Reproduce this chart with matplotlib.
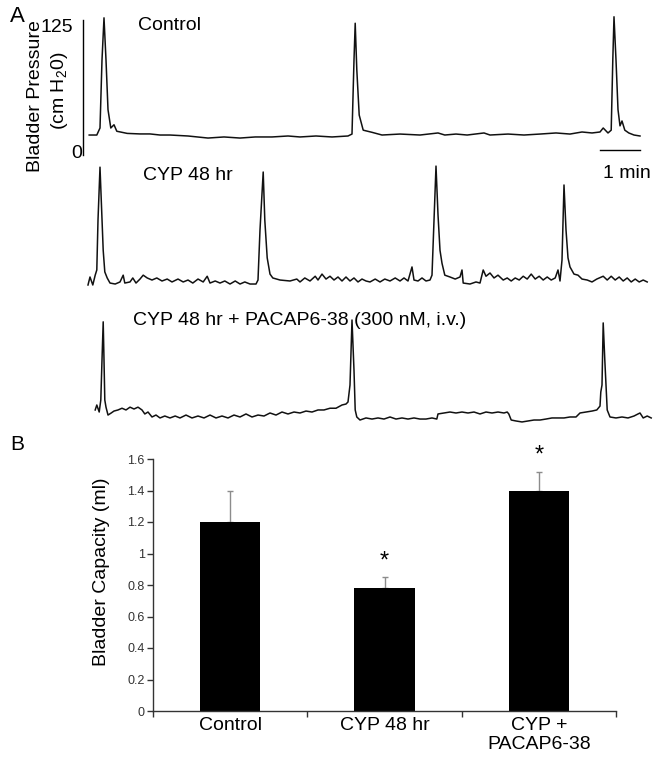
import matplotlib
matplotlib.use("Agg")
import matplotlib.pyplot as plt
from matplotlib.ticker import FixedLocator, FuncFormatter

plt.rcParams['font.family'] = ['Liberation Sans', 'DejaVu Sans']
plt.rcParams['mathtext.default'] = 'regular'

# ---------------- Panel A: cystometrogram traces (time in min, pressure in cm H2O)
control_t = [0.03, 0.22, 0.30, 0.35, 0.40, 0.45, 0.50, 0.57, 0.65, 0.72, 0.98, 1.3, 1.55, 1.8,
             2.05, 2.5, 3.0, 3.4, 3.8, 4.18, 4.6, 5.0, 5.3, 5.7, 6.1, 6.5, 6.6, 6.65, 6.68,
             6.72, 6.78, 6.88, 7.1, 7.35, 7.8, 8.3, 8.75, 8.92, 9.2, 9.48, 9.9, 10.05, 10.5,
             10.9, 11.3, 11.7, 12.05, 12.35, 12.6, 12.8, 12.88, 13.0, 13.08, 13.12, 13.15,
             13.2, 13.25, 13.3, 13.35, 13.42, 13.52, 13.65, 13.8]
control_p = [18.5, 18.5, 25, 88, 127, 88, 42, 25, 28, 22, 20, 19.5, 19.5, 18.5,
             18.5, 17.6, 15.7, 16.7, 15.7, 16.7, 16.7, 17.6, 16.7, 17.6, 16.7, 17.6, 19.4, 88, 122,
             79, 37, 23, 21, 18.5, 19.4, 18.5, 20.4, 18.5, 19.4, 18.5, 20.4, 18.5, 19.4,
             18.5, 19.4, 20.4, 19.4, 21.3, 20.4, 21.3, 25, 20.4, 23, 88, 128,
             88, 42, 27, 31.5, 23, 20.4, 18.5, 17.6]

cyp_t = [0.0, 0.05, 0.12, 0.18, 0.22, 0.25, 0.30, 0.35, 0.38, 0.42, 0.48, 0.55, 0.68, 0.8,
         0.88, 0.92, 1.05, 1.12, 1.2, 1.3, 1.38, 1.48, 1.6, 1.72, 1.85, 1.98, 2.1, 2.25,
         2.38, 2.5, 2.62, 2.75, 2.88, 2.98, 3.05, 3.18, 3.3, 3.42, 3.55, 3.68, 3.8, 3.92,
         4.05, 4.2, 4.25, 4.3, 4.38, 4.42, 4.48, 4.55, 4.62, 4.8, 5.05, 5.22, 5.3, 5.42,
         5.55, 5.68, 5.75, 5.85, 5.95, 6.05, 6.15, 6.25, 6.35, 6.45, 6.55, 6.65, 6.75, 6.85,
         6.95, 7.05, 7.18, 7.3, 7.42, 7.55, 7.68, 7.8, 7.9, 8.0, 8.1, 8.15, 8.25, 8.35,
         8.45, 8.55, 8.6, 8.65, 8.7, 8.75, 8.8, 8.85, 8.92, 9.05, 9.18, 9.3, 9.35, 9.38,
         9.55, 9.7, 9.8, 9.88, 9.95, 10.05, 10.15, 10.25, 10.38, 10.48, 10.58, 10.68, 10.78,
         10.88, 10.98, 11.08, 11.18, 11.28, 11.38, 11.48, 11.58, 11.68, 11.75, 11.8, 11.85,
         11.9, 11.95, 12.0, 12.05, 12.15, 12.25, 12.35, 12.48, 12.6, 12.72, 12.88, 12.98,
         13.08, 13.18, 13.28, 13.38, 13.48, 13.58, 13.68, 13.78, 13.88, 13.98]
cyp_p = [13.9, 21.3, 13.9, 23, 27.8, 74, 123, 74, 46, 26, 20.4, 15.7, 14.8, 16.7,
         23, 15.7, 16.7, 20.4, 15.7, 19.4, 23, 20.4, 18.5, 20.4, 17.6, 19.4, 16.7, 19.4,
         16.7, 18.5, 15.7, 19.4, 16.7, 22, 15.7, 17.6, 15.7, 17.6, 14.8, 17.6, 14.8, 16.7,
         14.8, 14.8, 18.5, 65, 118.5, 74, 39, 24, 20.4, 18.5, 17.6, 19.4, 16.7, 20.4,
         17.6, 22, 18.5, 24, 19.4, 22, 18.5, 21.3, 17.6, 21.3, 17.6, 20.4, 16.7, 19.4,
         17.6, 16.7, 19.4, 16.7, 19.4, 17.6, 20.4, 17.6, 20.4, 17.6, 30.6, 18.5, 17.6, 20.4,
         17.6, 18.5, 23, 74, 124, 79, 46, 34, 23, 21.3, 19.4, 21.3, 27.8, 15.7,
         14.8, 16.7, 15.7, 27.8, 22, 25, 20.4, 23, 18.5, 20.4, 17.6, 20.4, 18.5,
         22, 19.4, 24, 19.4, 22, 18.5, 21.3, 18.5, 20.4, 27.8, 17.6, 37,
         106.5, 65, 39, 30.6, 24, 23, 19.4, 18.5, 16.7, 19.4, 22, 18.5,
         22, 18.5, 21.3, 17.6, 20.4, 16.7, 19.4, 16.7, 18.5, 16.7]

pacap_t = [0.18, 0.22, 0.28, 0.32, 0.35, 0.38, 0.40, 0.42, 0.45, 0.5, 0.58, 0.65, 0.75, 0.85,
           0.95, 1.05, 1.15, 1.25, 1.35, 1.42, 1.5, 1.6, 1.7, 1.8, 1.92, 2.05, 2.18, 2.3,
           2.45, 2.6, 2.75, 2.9, 3.05, 3.2, 3.35, 3.5, 3.65, 3.8, 3.95, 4.1, 4.25, 4.4, 4.55,
           4.7, 4.85, 5.0, 5.15, 5.3, 5.45, 5.6, 5.75, 5.9, 6.05, 6.2, 6.35, 6.45, 6.5, 6.55,
           6.6, 6.65, 6.68, 6.72, 6.8, 6.95, 7.1, 7.25, 7.4, 7.55, 7.7, 7.85, 8.0, 8.15, 8.3,
           8.45, 8.6, 8.72, 8.75, 8.9, 9.05, 9.2, 9.35, 9.5, 9.65, 9.8, 9.95, 10.1, 10.25,
           10.4, 10.48, 10.52, 10.58, 10.7, 10.85, 11.0, 11.15, 11.3, 11.45, 11.6, 11.75,
           11.9, 12.05, 12.2, 12.3, 12.45, 12.6, 12.72, 12.8, 12.82, 12.85, 12.88, 12.92,
           12.98, 13.05, 13.2, 13.35, 13.5, 13.65, 13.75, 13.8, 13.88, 13.98, 14.08]
pacap_p = [20.4, 25, 18.5, 29.6, 66.7, 102, 66.7, 29.6, 23, 15.7, 17.6, 19.4, 20.4, 22,
           20.4, 23, 21.3, 23, 20.4, 16.7, 18.5, 13.9, 15.7, 13, 14.8, 13, 14.8, 13,
           15.7, 13, 14.8, 13, 15.7, 13, 14.8, 13, 15.7, 13.9, 16.7, 13.9, 15.7, 14.8, 17.6,
           15.7, 18.5, 16.7, 18.5, 17.6, 19.4, 18.5, 20.4, 20.4, 22, 22, 25, 25.9, 27.8, 43.5,
           103.7, 57, 20.4, 13.9, 11.1, 13, 12, 13, 12, 13.9, 12, 13, 12, 13, 12,
           12, 13, 12, 16.7, 17.6, 18.5, 17.6, 18.5, 17.6, 18.5, 16.7, 18.5, 17.6, 18.5,
           17.6, 18.5, 16.7, 11.1, 10.2, 9.3, 10.2, 11.1, 11.1, 12, 13, 13,
           13, 13.9, 13.9, 17.6, 18.5, 19.4, 20.4, 24, 37, 43.5, 101, 66.7,
           20.4, 13.9, 13, 13.9, 13, 14.8, 16.7, 17.6, 13, 14.8, 13]

trace_times = [control_t, cyp_t, pacap_t]
trace_pressures = [control_p, cyp_p, pacap_p]
trace_labels = ["Control", "CYP 48 hr", "CYP 48 hr + PACAP6-38 (300 nM, i.v.)"]
pressure_bar = [0, 125]     # cm H2O
time_bar = [12.8, 13.8]     # 1 min

# ---------------- Panel B: bladder capacity
groups = ["Control", "CYP 48 hr", "CYP +\nPACAP6-38"]
capacity = [1.2, 0.78, 1.4]
capacity_err = [0.2, 0.07, 0.12]
significant = [False, True, True]
ytick_vals = [0, 0.2, 0.4, 0.6, 0.8, 1.0, 1.2, 1.4, 1.6]

# ---------------- layout helpers (pixels -> figure fraction)
W, H = 663, 760
fig = plt.figure(figsize=(W / 100, H / 100), dpi=100)


def box(l, t, r, b):
    return [l / W, 1 - b / H, (r - l) / W, (b - t) / H]


def fx(x):
    return x / W


def fy(y):
    return 1 - y / H


PX_PER_CM = 1.08
PX_PER_MIN = 40.0
T0_PX = 88
AX_L, AX_R = 80, 660

trace_zero_px = [155, 300, 432]
axes_a = []
for i, y0 in enumerate(trace_zero_px):
    top, bot = y0 - 150, y0 + 10
    ax = fig.add_axes(box(AX_L, top, AX_R, bot))
    ax.set_xlim((AX_L - T0_PX) / PX_PER_MIN, (AX_R - T0_PX) / PX_PER_MIN)
    ax.set_ylim((y0 - bot) / PX_PER_CM, (y0 - top) / PX_PER_CM)
    ax.axis('off')
    ax.patch.set_alpha(0)
    ax.plot(trace_times[i], trace_pressures[i], color='#111111', lw=1.1,
            solid_joinstyle='round')
    axes_a.append(ax)

# scale bars on the control trace axes
ax1 = axes_a[0]
ax1.plot([-0.125, -0.125], pressure_bar, color='black', lw=1.0, clip_on=False)
ax1.plot(time_bar, [4.6, 4.6], color='black', lw=1.0, clip_on=False)

# texts panel A
fig.text(fx(17), fy(17), "A", fontsize=16, ha='center', va='center')
fig.text(fx(138), fy(25), trace_labels[0], fontsize=14, ha='left', va='center')
fig.text(fx(143), fy(176), trace_labels[1], fontsize=14, ha='left', va='center')
fig.text(fx(133), fy(321), trace_labels[2], fontsize=14, ha='left', va='center')
fig.text(fx(627), fy(173), "1 min", fontsize=14, ha='center', va='center')
fig.text(fx(73), fy(28), "125", fontsize=14, ha='right', va='center')
fig.text(fx(82), fy(153), "0", fontsize=14, ha='right', va='center')
fig.text(fx(36), fy(96), "Bladder Pressure", fontsize=14, rotation=90,
         ha='center', va='center')
fig.text(fx(60), fy(91), "(cm H$_2$0)", fontsize=14, rotation=90,
         ha='center', va='center')

# ---------------- Panel B
fig.text(fx(17), fy(445), "B", fontsize=15, ha='center', va='center')
axb = fig.add_axes(box(153, 459, 616, 711))
x = list(range(len(groups)))
axb.bar(x, capacity, width=0.39, color='black', zorder=2)
axb.errorbar(x, capacity, yerr=[[0] * len(capacity), capacity_err], fmt='none',
             ecolor='#8c8c8c', elinewidth=1.0, capsize=2.5, capthick=1.0, zorder=1)
for xi, v, e, s in zip(x, capacity, capacity_err, significant):
    if s:
        axb.text(xi, v + e + 0.03, "*", fontsize=17, ha='center', va='bottom')
axb.set_xlim(-0.5, 2.5)
axb.set_ylim(0, 1.6)
axb.spines['top'].set_visible(False)
axb.spines['right'].set_visible(False)
for sp in ('left', 'bottom'):
    axb.spines[sp].set_color('#333333')
    axb.spines[sp].set_linewidth(1.0)
axb.yaxis.set_major_locator(FixedLocator(ytick_vals))
axb.yaxis.set_major_formatter(FuncFormatter(lambda v, p: f"{v:g}"))
axb.tick_params(axis='y', direction='out', length=4, width=1.0, color='#333333',
                labelsize=9, labelcolor='#333333', pad=2)
axb.set_xticks(x)
axb.set_xticklabels(groups, fontsize=14, linespacing=1.15)
axb.tick_params(axis='x', which='major', length=0, pad=4)
axb.xaxis.set_minor_locator(FixedLocator([-0.5, 0.5, 1.5, 2.5]))
axb.tick_params(axis='x', which='minor', direction='out', length=4, width=1.0,
                color='#333333')
fig.text(fx(102), fy(572), "Bladder Capacity (ml)", fontsize=14, rotation=90,
         ha='center', va='center')

fig.savefig("out.png", dpi=100)
